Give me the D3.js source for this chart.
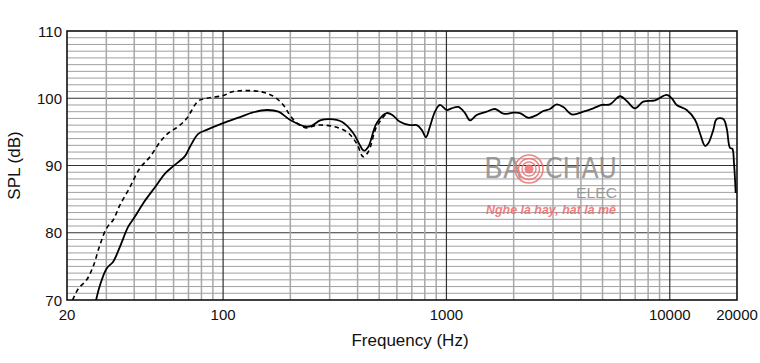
<!DOCTYPE html>
<html>
<head>
<meta charset="utf-8">
<script src="https://cdn.jsdelivr.net/npm/d3@7"></script>
<style>
  body { margin: 0; background: #fff; }
  svg { display: block; font-family: "Liberation Sans", Arial, sans-serif; }
</style>
</head>
<body>
<figure id="spl" style="margin:0"></figure>
<script>
// frequency response, solid curve
const solidFreq = [27, 28.1, 30.1, 32.2, 34.5, 37.6, 40.3, 43.9, 50.4, 54.9, 59.8, 67.5, 71.1, 77.4, 84.4,
  100, 119, 136, 157, 177, 199, 233, 249, 272, 301, 340, 383, 410, 427, 447, 487, 540, 578, 619,
  687, 736, 775, 810, 844, 889, 935, 1003, 1056, 1130, 1211, 1275, 1366, 1514, 1650, 1798, 1992,
  2134, 2326, 2536, 2714, 2910, 3117, 3338, 3639, 4100, 4546, 4958, 5400, 5986, 6414, 6989, 7612,
  8590, 9692, 10206, 10740, 11910, 12972, 13650, 14386, 14876, 15668, 16220, 17370, 17990, 18612,
  19056, 19392, 19734];
const solidSpl = [70, 72.2, 74.7, 75.7, 77.9, 80.9, 82.4, 84.4, 87.1, 88.8, 89.9, 91.4, 92.8, 94.7, 95.3,
  96.3, 97.2, 97.9, 98.25, 98.0, 96.8, 95.8, 95.9, 96.7, 96.9, 96.5, 94.8, 93.0, 92.2, 92.8, 96.3, 97.8, 97.4, 96.5,
  96.0, 96.0, 95.3, 94.2, 95.8, 98.0, 99.0, 98.25, 98.5, 98.7, 97.8, 96.7, 97.5, 98.0, 98.4, 97.7, 97.85,
  97.8, 97.1, 97.5, 98.1, 98.4, 99.1, 98.7, 97.6, 98.0, 98.5, 99.0, 99.1, 100.3, 99.6, 98.5, 99.5,
  99.7, 100.5, 100.0, 99.0, 98.25, 96.8, 94.8, 92.9, 93.3, 95.3, 96.9, 96.9, 95.5, 92.6,
  92.5, 90.3, 85.9];

// dashed curve
const dashedFreq = [21.2, 22.5, 24.5, 26.2, 28.1, 30.1, 32.2, 34.5, 38.3, 42.4, 47.1, 52.2, 56.8, 63, 68.7,
  77.4, 84.4, 100, 111, 146, 168, 186, 199, 214, 237, 263, 311, 358, 396, 424, 447, 487, 540];
const dashedSpl = [70, 71.7, 73.0, 75.0, 78.2, 80.7, 81.9, 84.1, 86.8, 89.6, 91.3, 93.5, 94.8, 95.8, 97.0,
  99.6, 100.0, 100.4, 101.0, 101.0, 100.3, 99.0, 97.5, 96.3, 95.6, 96.0, 95.8, 95.0, 93.3, 91.3, 92.05, 95.8, 97.8];

const xTickLabels = [20, 100, 1000, 10000, 20000];
const yTickLabels = [70, 80, 90, 100, 110];
const minorFreq = [30, 40, 50, 60, 70, 80, 90, 200, 300, 400, 500, 600, 700, 800, 900,
  2000, 3000, 4000, 5000, 6000, 7000, 8000, 9000];
const majorFreq = [100, 1000, 10000];

const W = 760, H = 363;
const plotL = 67, plotR = 737, plotT = 31, plotB = 300;

const svg = d3.select("figure#spl")
  .append("svg")
  .attr("width", W)
  .attr("height", H);

const x = d3.scaleLog().domain([20, 20000]).range([plotL, plotR]);
const y = d3.scaleLinear().domain([70, 110]).range([plotB, plotT]);

// horizontal grid, every 1 dB
const grid = svg.append("g");
grid.selectAll("line.h")
  .data(d3.range(71, 110))
  .enter()
  .append("line")
  .attr("x1", plotL).attr("x2", plotR)
  .attr("y1", d => y(d)).attr("y2", d => y(d))
  .attr("stroke", d => d % 10 === 0 ? "#333" : "#a0a0a0")
  .attr("stroke-width", d => d % 10 === 0 ? 1.2 : 1);

// vertical grid
grid.selectAll("line.vm")
  .data(minorFreq)
  .enter()
  .append("line")
  .attr("y1", plotT).attr("y2", plotB)
  .attr("x1", d => x(d)).attr("x2", d => x(d))
  .attr("stroke", "#a8a8a8")
  .attr("stroke-width", 1.5);
grid.selectAll("line.vM")
  .data(majorFreq)
  .enter()
  .append("line")
  .attr("y1", plotT).attr("y2", plotB)
  .attr("x1", d => x(d)).attr("x2", d => x(d))
  .attr("stroke", "#333")
  .attr("stroke-width", 1.2);

// watermark
const wm = svg.append("g").attr("opacity", 0.85);
wm.append("text")
  .attr("x", 484).attr("y", 178)
  .attr("font-size", 28).attr("fill", "#8c8c8c")
  .attr("font-family", "'Liberation Sans Narrow', 'DejaVu Sans Condensed', sans-serif")
  .attr("textLength", 38).attr("lengthAdjust", "spacingAndGlyphs")
  .text("BA");
wm.append("text")
  .attr("x", 545).attr("y", 178)
  .attr("font-size", 28).attr("fill", "#8c8c8c")
  .attr("font-family", "'Liberation Sans Narrow', 'DejaVu Sans Condensed', sans-serif")
  .attr("textLength", 72).attr("lengthAdjust", "spacingAndGlyphs")
  .text("CHAU");
wm.append("text")
  .attr("x", 617).attr("y", 198)
  .attr("text-anchor", "end")
  .attr("font-size", 14).attr("fill", "#8c8c8c")
  .attr("textLength", 41).attr("lengthAdjust", "spacingAndGlyphs")
  .text("ELEC");
[14, 10.5, 7].forEach((r, i) => {
  wm.append("circle")
    .attr("cx", 529).attr("cy", 169).attr("r", r)
    .attr("fill", "none").attr("stroke", "#ee7070")
    .attr("stroke-width", i === 0 ? 1.6 : 1.4);
});
wm.append("circle").attr("cx", 529).attr("cy", 169).attr("r", 4.5).attr("fill", "#ee7070");
wm.append("text")
  .attr("x", 486).attr("y", 214)
  .attr("font-size", 12).attr("fill", "#ee6a6a")
  .attr("font-style", "italic").attr("font-weight", "bold")
  .attr("textLength", 130).attr("lengthAdjust", "spacingAndGlyphs")
  .text("Nghe là hay, hát là mê");

// frame
svg.append("rect")
  .attr("x", plotL).attr("y", plotT)
  .attr("width", plotR - plotL).attr("height", plotB - plotT)
  .attr("fill", "none").attr("stroke", "#111").attr("stroke-width", 1.6);

// curves
const line = d3.line()
  .x(d => x(d[0]))
  .y(d => y(d[1]))
  .curve(d3.curveCatmullRom.alpha(0.5));

svg.append("clipPath").attr("id", "plotclip")
  .append("rect").attr("x", plotL).attr("y", plotT)
  .attr("width", plotR - plotL).attr("height", plotB - plotT);

const curves = svg.append("g").attr("clip-path", "url(#plotclip)");
curves.append("path")
  .datum(dashedFreq.map((f, i) => [f, dashedSpl[i]]))
  .attr("d", line)
  .attr("fill", "none").attr("stroke", "#000")
  .attr("stroke-width", 1.6).attr("stroke-dasharray", "4.5,3.5");
curves.append("path")
  .datum(solidFreq.map((f, i) => [f, solidSpl[i]]))
  .attr("d", line)
  .attr("fill", "none").attr("stroke", "#000")
  .attr("stroke-width", 1.8);

// tick labels
svg.append("g").selectAll("text")
  .data(xTickLabels)
  .enter()
  .append("text")
  .attr("x", d => x(d))
  .attr("y", 320)
  .attr("text-anchor", "middle")
  .attr("font-size", 15)
  .attr("fill", "#111")
  .text(d => d);

svg.append("g").selectAll("text")
  .data(yTickLabels)
  .enter()
  .append("text")
  .attr("x", 62)
  .attr("y", d => y(d) + 5.5)
  .attr("text-anchor", "end")
  .attr("font-size", 15)
  .attr("fill", "#111")
  .text(d => d);

// axis titles
svg.append("text")
  .attr("x", 410).attr("y", 346)
  .attr("text-anchor", "middle")
  .attr("font-size", 17).attr("fill", "#111")
  .text("Frequency (Hz)");

svg.append("text")
  .attr("transform", "translate(20," + ((plotT + plotB) / 2) + ") rotate(-90)")
  .attr("text-anchor", "middle")
  .attr("font-size", 17).attr("fill", "#111")
  .text("SPL (dB)");
</script>
</body>
</html>
